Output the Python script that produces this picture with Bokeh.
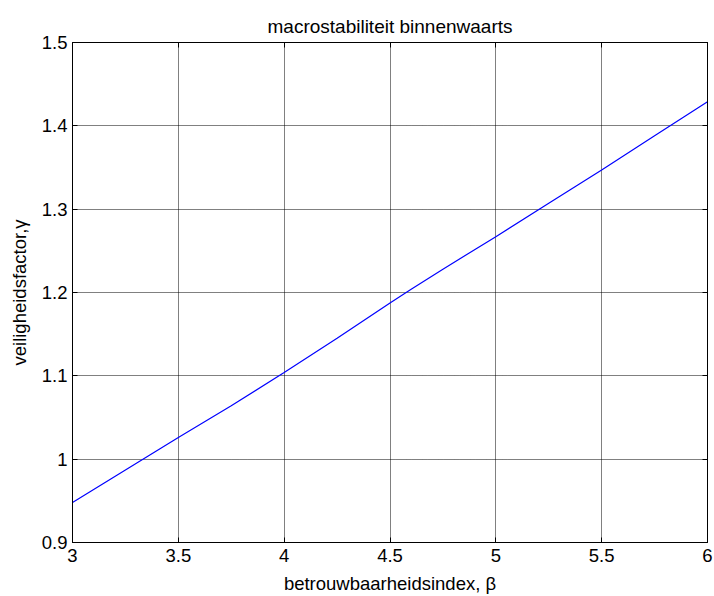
from bokeh.plotting import figure
from bokeh.models import FixedTicker, Range1d, LinearAxis
from bokeh.embed import file_html
from bokeh.resources import INLINE

beta = [3.0, 3.25, 3.5, 3.75, 4.0, 4.25, 4.5, 4.6, 4.75, 5.0, 5.25, 5.5, 5.75, 6.0]
gamma = [0.948, 0.987, 1.026, 1.064, 1.104, 1.145, 1.1875, 1.204, 1.228, 1.267, 1.307, 1.347, 1.388, 1.429]

x_ticks = [3, 3.5, 4, 4.5, 5, 5.5, 6]
x_labels = ["3", "3.5", "4", "4.5", "5", "5.5", "6"]
y_ticks = [0.9, 1.0, 1.1, 1.2, 1.3, 1.4, 1.5]
y_labels = ["0.9", "1", "1.1", "1.2", "1.3", "1.4", "1.5"]

FONT = "Liberation Sans"
FS = "18.5px"

p = figure(width=714, height=596, output_backend="svg", toolbar_location=None,
           x_range=Range1d(3, 6), y_range=Range1d(0.9, 1.5),
           min_border_left=72, min_border_right=7, min_border_top=42, min_border_bottom=53,
           title="macrostabiliteit binnenwaarts")

p.title.text_font = FONT
p.title.text_font_size = "19px"
p.title.text_font_style = "normal"
p.title.align = "center"
p.title.text_color = "black"
p.title.standoff = 12

p.line(beta, gamma, line_color="#0000ff", line_width=1.2)

p.add_layout(LinearAxis(), "above")
p.add_layout(LinearAxis(), "right")

for ax in p.xaxis:
    ax.ticker = FixedTicker(ticks=x_ticks)
for ax in p.yaxis:
    ax.ticker = FixedTicker(ticks=y_ticks)
p.below[0].major_label_overrides = {t: l for t, l in zip(x_ticks, x_labels)}
p.left[0].major_label_overrides = {t: l for t, l in zip(y_ticks, y_labels)}
p.above[0].major_label_overrides = {t: "" for t in x_ticks}
p.right[0].major_label_overrides = {t: "" for t in y_ticks}

for ax in list(p.xaxis) + list(p.yaxis):
    ax.major_label_text_font = FONT
    ax.major_label_text_font_size = FS
    ax.major_label_text_color = "black"
    ax.axis_label_text_font = FONT
    ax.axis_label_text_font_size = FS
    ax.axis_label_text_font_style = "normal"
    ax.axis_label_text_color = "black"
    ax.axis_line_color = "black"
    ax.major_tick_line_color = "black"
    ax.major_tick_in = 5
    ax.major_tick_out = 0
    ax.minor_tick_line_color = None

for ax in (p.above[0], p.right[0]):
    ax.major_label_standoff = 0

p.below[0].axis_label = "betrouwbaarheidsindex, β"
p.left[0].axis_label = "veiligheidsfactor,γ"
p.below[0].major_label_standoff = 6
p.left[0].major_label_standoff = 5
p.below[0].axis_label_standoff = 8
p.left[0].axis_label_standoff = 9

p.xgrid.ticker = FixedTicker(ticks=x_ticks)
p.ygrid.ticker = FixedTicker(ticks=y_ticks)
p.grid.grid_line_color = "black"
p.grid.grid_line_dash = "1 1"
p.grid.grid_line_width = 1
p.grid.grid_line_alpha = 1.0

p.outline_line_color = "black"
p.outline_line_width = 1
p.background_fill_color = "white"
p.border_fill_color = "white"

open("out.html", "w").write(file_html(p, INLINE))
